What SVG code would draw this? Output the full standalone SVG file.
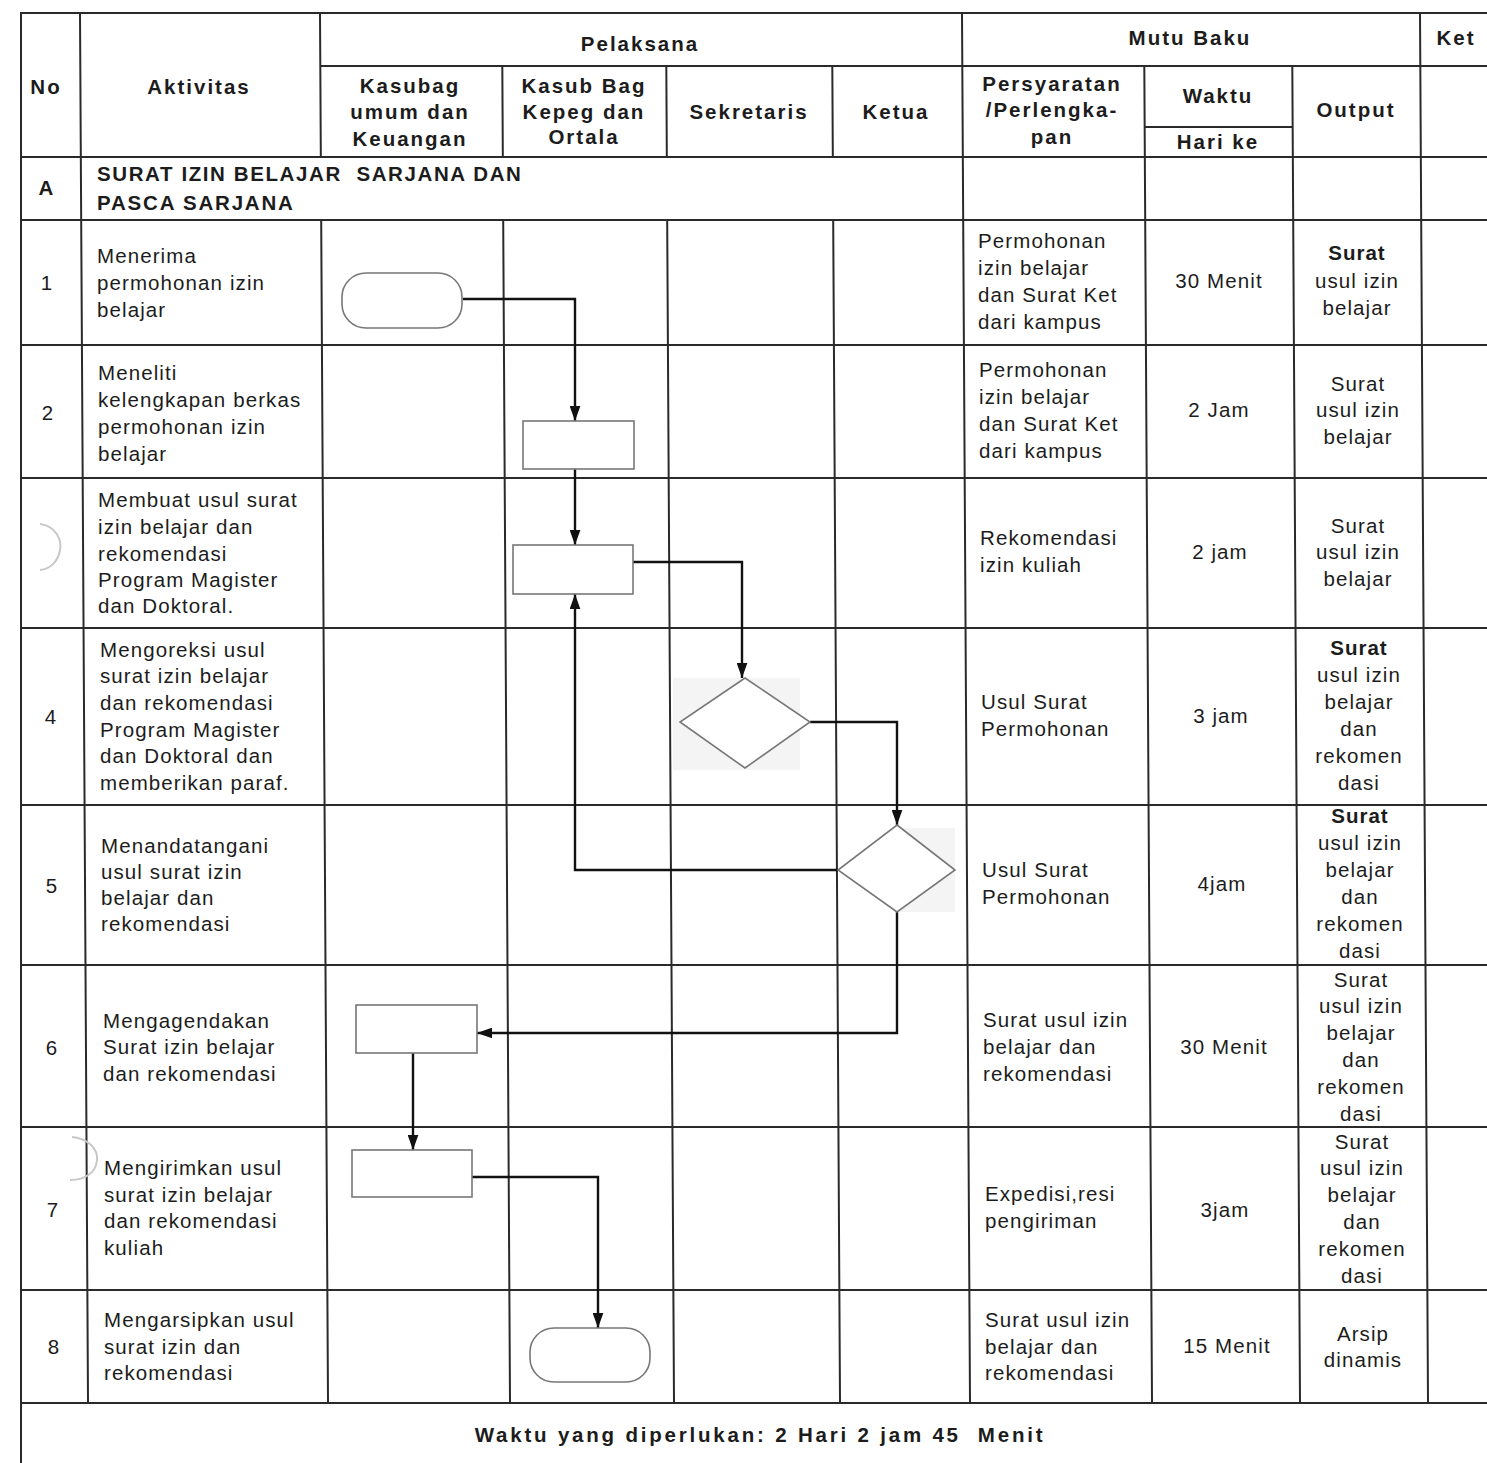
<svg xmlns="http://www.w3.org/2000/svg" width="1487" height="1463" viewBox="0 0 1487 1463">
<defs>
<style>
.g{stroke:#2a2a2a;stroke-width:2;fill:none}
.t{font-family:"Liberation Sans",Arial,sans-serif;font-size:20.5px;letter-spacing:1.1px;fill:#1c1c1c}
.b{font-weight:bold;letter-spacing:2px}
.f{letter-spacing:2.8px}
.c{text-anchor:middle}
.pre{white-space:pre}
.sh{fill:#fff;stroke:#777;stroke-width:1.6}
.cn{stroke:#111;stroke-width:2.4;fill:none}
.faint{stroke:#c8c8c8;stroke-width:2;fill:none}
</style>
<marker id="ah" viewBox="0 0 14 10" refX="14" refY="5" markerWidth="15" markerHeight="11" markerUnits="userSpaceOnUse" orient="auto">
<path d="M0,0 L14,5 L0,10 z" fill="#111"/>
</marker>
</defs>
<rect width="1487" height="1463" fill="#fff"/>
<g id="grid" class="g">
<path d="M21,12V1463"/>
<path d="M20,13H1487M320,66H1487M1145,127H1293M20,157H1487M20,220H1487M20,345H1487M20,478H1487M20,628H1487M20,805H1487M20,965H1487M20,1127H1487M20,1290H1487M20,1403H1487"/>
<g transform="matrix(1 0 0.00576 1 -0.075 0)">
<path d="M80,13V1403M320,13V157M320,220V1403M502,66V157M502,220V1403M666,66V157M666,220V1403M832,66V157M832,220V1403M962,13V1403M1144,66V1403M1292,66V1403M1420,13V1403"/>
</g>
</g>
<g id="artifacts">
<rect x="673" y="678" width="127" height="92" fill="#f4f4f4"/>
<rect x="897" y="828" width="58" height="84" fill="#f4f4f4"/>
<path class="faint" d="M40,524 C56,526 62,540 60,550 C58,562 50,569 40,570"/>
<path class="faint" d="M72,1137 C90,1139 98,1150 97,1160 C96,1172 86,1180 70,1180"/>
</g>
<g id="header" class="t b">
<text class="c" x="46" y="94">No</text>
<text class="c" x="199" y="94">Aktivitas</text>
<text class="c" x="640" y="51">Pelaksana</text>
<text class="c" x="410" y="93">Kasubag</text>
<text class="c" x="410" y="119">umum dan</text>
<text class="c" x="410" y="146">Keuangan</text>
<text class="c" x="584" y="93">Kasub Bag</text>
<text class="c" x="584" y="119">Kepeg dan</text>
<text class="c" x="584" y="144">Ortala</text>
<text class="c" x="749" y="119">Sekretaris</text>
<text class="c" x="896" y="119">Ketua</text>
<text class="c" x="1190" y="45">Mutu Baku</text>
<text class="c" x="1456" y="45">Ket</text>
<text class="c" x="1052" y="91">Persyaratan</text>
<text class="c" x="1052" y="117">/Perlengka-</text>
<text class="c" x="1052" y="144">pan</text>
<text class="c" x="1218" y="103">Waktu</text>
<text class="c" x="1218" y="149">Hari ke</text>
<text class="c" x="1356" y="117">Output</text>
<text class="c" x="47" y="195">A</text>
<text class="pre" x="97" y="181" style="letter-spacing:1.6px">SURAT IZIN BELAJAR  SARJANA DAN</text>
<text x="97" y="210" style="letter-spacing:1.8px">PASCA SARJANA</text>
</g>
<g id="row1" class="t">
<text class="c" x="47" y="290">1</text>
<text x="97" y="263">Menerima</text>
<text x="97" y="290">permohonan izin</text>
<text x="97" y="317">belajar</text>
<text x="978" y="248">Permohonan</text>
<text x="978" y="275">izin belajar</text>
<text x="978" y="302">dan Surat Ket</text>
<text x="978" y="329">dari kampus</text>
<text class="c" x="1219" y="288">30 Menit</text>
<text class="c b" x="1357" y="260" style="letter-spacing:1px">Surat</text>
<text class="c" x="1357" y="288">usul izin</text>
<text class="c" x="1357" y="315">belajar</text>
</g>
<g id="row2" class="t">
<text class="c" x="48" y="420">2</text>
<text x="98" y="380">Meneliti</text>
<text x="98" y="407">kelengkapan berkas</text>
<text x="98" y="434">permohonan izin</text>
<text x="98" y="461">belajar</text>
<text x="979" y="377">Permohonan</text>
<text x="979" y="404">izin belajar</text>
<text x="979" y="431">dan Surat Ket</text>
<text x="979" y="458">dari kampus</text>
<text class="c" x="1219" y="417">2 Jam</text>
<text class="c" x="1358" y="391">Surat</text>
<text class="c" x="1358" y="417">usul izin</text>
<text class="c" x="1358" y="444">belajar</text>
</g>
<g id="row3" class="t">
<text x="98" y="507">Membuat usul surat</text>
<text x="98" y="534">izin belajar dan</text>
<text x="98" y="561">rekomendasi</text>
<text x="98" y="587">Program Magister</text>
<text x="98" y="613">dan Doktoral.</text>
<text x="980" y="545">Rekomendasi</text>
<text x="980" y="572">izin kuliah</text>
<text class="c" x="1220" y="559">2 jam</text>
<text class="c" x="1358" y="533">Surat</text>
<text class="c" x="1358" y="559">usul izin</text>
<text class="c" x="1358" y="586">belajar</text>
</g>
<g id="row4" class="t">
<text class="c" x="51" y="724">4</text>
<text x="100" y="657">Mengoreksi usul</text>
<text x="100" y="683">surat izin belajar</text>
<text x="100" y="710">dan rekomendasi</text>
<text x="100" y="737">Program Magister</text>
<text x="100" y="763">dan Doktoral dan</text>
<text x="100" y="790">memberikan paraf.</text>
<text x="981" y="709">Usul Surat</text>
<text x="981" y="736">Permohonan</text>
<text class="c" x="1221" y="723">3 jam</text>
<text class="c b" x="1359" y="655" style="letter-spacing:1px">Surat</text>
<text class="c" x="1359" y="682">usul izin</text>
<text class="c" x="1359" y="709">belajar</text>
<text class="c" x="1359" y="736">dan</text>
<text class="c" x="1359" y="763">rekomen</text>
<text class="c" x="1359" y="790">dasi</text>
</g>
<g id="row5" class="t">
<text class="c" x="52" y="893">5</text>
<text x="101" y="853">Menandatangani</text>
<text x="101" y="879">usul surat izin</text>
<text x="101" y="905">belajar dan</text>
<text x="101" y="931">rekomendasi</text>
<text x="982" y="877">Usul Surat</text>
<text x="982" y="904">Permohonan</text>
<text class="c" x="1222" y="891">4jam</text>
<text class="c b" x="1360" y="823" style="letter-spacing:1px">Surat</text>
<text class="c" x="1360" y="850">usul izin</text>
<text class="c" x="1360" y="877">belajar</text>
<text class="c" x="1360" y="904">dan</text>
<text class="c" x="1360" y="931">rekomen</text>
<text class="c" x="1360" y="958">dasi</text>
</g>
<g id="row6" class="t">
<text class="c" x="52" y="1055">6</text>
<text x="103" y="1028">Mengagendakan</text>
<text x="103" y="1054">Surat izin belajar</text>
<text x="103" y="1081">dan rekomendasi</text>
<text x="983" y="1027">Surat usul izin</text>
<text x="983" y="1054">belajar dan</text>
<text x="983" y="1081">rekomendasi</text>
<text class="c" x="1224" y="1054">30 Menit</text>
<text class="c" x="1361" y="987">Surat</text>
<text class="c" x="1361" y="1013">usul izin</text>
<text class="c" x="1361" y="1040">belajar</text>
<text class="c" x="1361" y="1067">dan</text>
<text class="c" x="1361" y="1094">rekomen</text>
<text class="c" x="1361" y="1121">dasi</text>
</g>
<g id="row7" class="t">
<text class="c" x="53" y="1217">7</text>
<text x="104" y="1175">Mengirimkan usul</text>
<text x="104" y="1202">surat izin belajar</text>
<text x="104" y="1228">dan rekomendasi</text>
<text x="104" y="1255">kuliah</text>
<text x="985" y="1201">Expedisi,resi</text>
<text x="985" y="1228">pengiriman</text>
<text class="c" x="1225" y="1217">3jam</text>
<text class="c" x="1362" y="1149">Surat</text>
<text class="c" x="1362" y="1175">usul izin</text>
<text class="c" x="1362" y="1202">belajar</text>
<text class="c" x="1362" y="1229">dan</text>
<text class="c" x="1362" y="1256">rekomen</text>
<text class="c" x="1362" y="1283">dasi</text>
</g>
<g id="row8" class="t">
<text class="c" x="54" y="1354">8</text>
<text x="104" y="1327">Mengarsipkan usul</text>
<text x="104" y="1354">surat izin dan</text>
<text x="104" y="1380">rekomendasi</text>
<text x="985" y="1327">Surat usul izin</text>
<text x="985" y="1354">belajar dan</text>
<text x="985" y="1380">rekomendasi</text>
<text class="c" x="1227" y="1353">15 Menit</text>
<text class="c" x="1363" y="1341">Arsip</text>
<text class="c" x="1363" y="1367">dinamis</text>
</g>
<g id="footer" class="t b">
<text class="c f pre" x="760" y="1442">Waktu yang diperlukan: 2 Hari 2 jam 45  Menit</text>
</g>
<g id="connectors">
<path class="cn" d="M463,299 H575 V421" marker-end="url(#ah)"/>
<path class="cn" d="M575,469 V545" marker-end="url(#ah)"/>
<path class="cn" d="M633,562 H742 V678" marker-end="url(#ah)"/>
<path class="cn" d="M810,722 H897 V825" marker-end="url(#ah)"/>
<path class="cn" d="M838,870 H575 V594" marker-end="url(#ah)"/>
<path class="cn" d="M897,912 V1033 H477" marker-end="url(#ah)"/>
<path class="cn" d="M413,1053 V1150" marker-end="url(#ah)"/>
<path class="cn" d="M472,1177 H598 V1328" marker-end="url(#ah)"/>
</g>
<g id="n1"><rect class="sh" x="342" y="273" width="120" height="55" rx="24"/></g>
<g id="n2"><rect class="sh" x="523" y="421" width="111" height="48"/></g>
<g id="n3"><rect class="sh" x="513" y="545" width="120" height="49"/></g>
<g id="n4"><polygon class="sh" points="745,678 810,722 745,768 680,722"/></g>
<g id="n5"><polygon class="sh" points="897,825 955,870 897,912 838,870"/></g>
<g id="n6"><rect class="sh" x="356" y="1005" width="121" height="48"/></g>
<g id="n7"><rect class="sh" x="352" y="1150" width="120" height="47"/></g>
<g id="n8"><rect class="sh" x="530" y="1328" width="120" height="54" rx="24"/></g>
</svg>
